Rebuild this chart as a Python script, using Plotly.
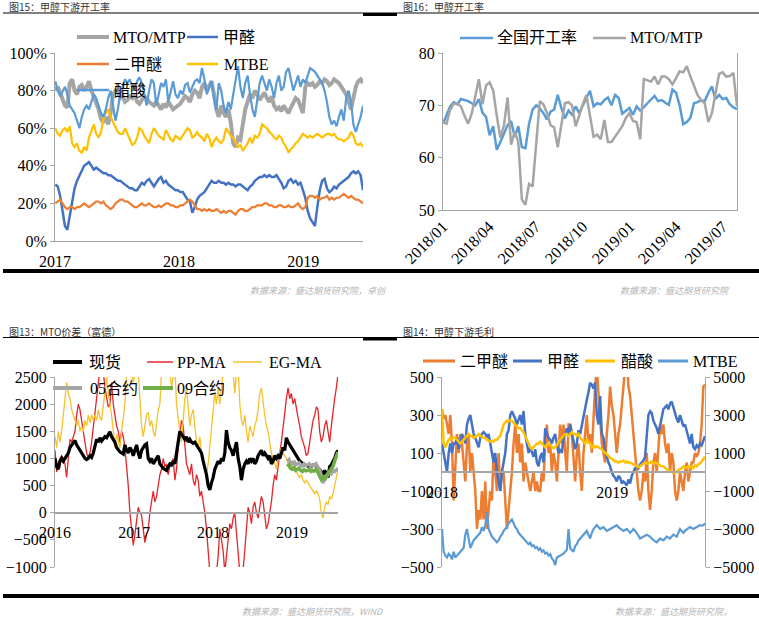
import pandas as pd
import plotly.graph_objects as go

# ---------------- Panel 1 (图15) weekly operating rates, % ----------------
p1_start, p1_end = "2017-01-02", "2019-06-26"
p1_mto = [80, 82, 79, 76, 72, 71, 84, 86, 80, 78, 82, 83, 80, 82, 85, 80, 77, 74, 70, 65, 63, 66, 62, 68, 78, 80,
          79, 76, 77, 74, 75, 77, 76, 78, 74, 73, 75, 77, 76, 74, 73, 72, 74, 72, 70, 73, 71, 74, 72, 70, 71, 72,
          73, 75, 77, 76, 74, 78, 80, 79, 76, 82, 84, 80, 83, 85, 78, 70, 66, 72, 68, 66, 70, 63, 52, 50, 55, 54,
          62, 70, 74, 78, 76, 80, 78, 75, 77, 79, 76, 74, 77, 72, 70, 71, 69, 72, 70, 68, 71, 74, 76, 75, 72, 68,
          82, 84, 83, 84, 82, 83, 85, 84, 86, 85, 83, 84, 86, 85, 84, 82, 80, 78, 74, 70, 76, 82, 85, 86, 84]
p1_hcho = [30, 29, 24, 15, 8, 6, 14, 22, 28, 32, 35, 38, 40, 41, 42, 40, 38, 39, 38, 37, 36, 36, 35, 35, 34, 33,
           32, 32, 31, 30, 29, 28, 28, 27, 27, 29, 31, 30, 32, 33, 31, 29, 31, 33, 34, 31, 32, 30, 29, 28, 27, 27,
           26, 26, 24, 22, 21, 15, 18, 22, 24, 25, 26, 28, 30, 32, 31, 31, 32, 31, 31, 30, 31, 30, 30, 29, 30, 30,
           29, 28, 27, 29, 30, 32, 33, 34, 34, 35, 34, 35, 34, 34, 35, 33, 31, 28, 29, 32, 33, 31, 32, 30, 31, 27,
           23, 16, 12, 10, 8, 18, 27, 32, 33, 28, 26, 27, 29, 28, 30, 31, 32, 33, 34, 36, 37, 36, 37, 35, 27]
p1_dme = [20, 21, 22, 20, 18, 17, 18, 18, 17, 18, 18, 19, 20, 19, 18, 19, 20, 21, 21, 20,
          21, 19, 18, 17, 18, 20, 21, 22, 22, 21, 21, 20, 19, 18, 18, 19, 20, 19, 19, 20,
          19, 18, 18, 19, 18, 19, 20, 20, 19, 19, 18, 18, 19, 19, 20, 21, 22, 21, 19, 17,
          17, 16, 17, 16, 17, 16, 16, 17, 16, 15, 16, 15, 16, 16, 15, 14, 16, 17, 17, 16,
          16, 17, 18, 18, 19, 19, 19, 20, 20, 19, 19, 18, 18, 19, 19, 18, 18, 19, 18, 18,
          19, 20, 18, 17, 18, 23, 24, 24, 23, 24, 22, 23, 23, 24, 22, 23, 22, 23, 23, 24,
          25, 24, 23, 24, 23, 22, 22, 21, 20]
p1_mtbe = [60, 57, 56, 59, 60, 58, 61, 52, 50, 52, 48, 47, 50, 48, 55, 58, 62, 57, 55, 58, 65, 68, 70, 66, 63, 60,
           58, 57, 57, 60, 57, 54, 51, 52, 55, 60, 59, 56, 54, 52, 57, 60, 58, 56, 55, 54, 59, 56, 54, 53, 56, 55,
           54, 56, 58, 60, 59, 55, 56, 58, 56, 55, 53, 57, 55, 50, 53, 55, 53, 52, 54, 60, 58, 56, 55, 52, 50, 51,
           48, 50, 52, 55, 52, 56, 55, 57, 62, 61, 60, 58, 57, 55, 54, 56, 55, 52, 50, 47, 49, 50, 52, 53, 55, 57,
           56, 55, 56, 55, 56, 57, 56, 55, 56, 57, 57, 56, 57, 55, 54, 54, 53, 54, 55, 58, 56, 52, 51, 52, 50]
p1_acet = [85, 80, 77, 80, 82, 78, 72, 70, 68, 64, 60, 66, 70, 72, 70, 74, 78, 76, 72, 68, 66, 70, 76, 80, 72, 64,
           70, 78, 82, 86, 84, 86, 82, 80, 85, 87, 84, 78, 72, 80, 86, 84, 72, 78, 84, 82, 86, 74, 80, 85, 78, 76,
           80, 78, 83, 84, 79, 82, 85, 86, 84, 92, 86, 78, 82, 85, 76, 70, 84, 80, 72, 68, 74, 70, 78, 86, 93, 82,
           76, 84, 88, 78, 70, 66, 75, 84, 88, 84, 80, 86, 82, 76, 84, 88, 80, 82, 90, 92, 86, 80, 84, 88, 82, 86,
           84, 88, 92, 91, 90, 88, 86, 84, 80, 74, 66, 62, 64, 61, 66, 70, 64, 76, 80, 74, 62, 58, 62, 66, 72]
p1_names = ["MTO/MTP", "甲醛", "二甲醚", "MTBE", "醋酸"]
p1_ticks = ["2017", "2018", "2019"]

# ---------------- Panel 2 (图16) methanol operating rate ----------------
p2_start, p2_end = "2018-01-01", "2019-07-29"
p2_nat = [66.5, 68.2, 69.8, 70.6, 70.2, 71.2, 71.0, 70.8, 70.4, 70.0, 71.2, 68.6, 67.8, 64.3, 66.0, 61.5, 63.0,
          64.5, 66.2, 67.0, 64.0, 66.0, 62.0, 61.8, 66.5, 69.2, 70.0, 69.4, 68.5, 67.3, 68.8, 69.2, 72.0, 69.5,
          67.5, 69.0, 68.2, 69.8, 68.5, 70.0, 71.5, 72.8, 69.8, 70.4, 70.2, 71.0, 71.5, 70.0, 72.0, 71.4, 68.4,
          69.0, 69.5, 68.2, 69.8, 69.0, 69.6, 70.4, 71.2, 71.8, 70.8, 71.0, 70.5, 70.1, 73.0, 72.4, 70.0, 66.4,
          66.8, 67.6, 70.4, 70.6, 71.0, 70.8, 72.4, 73.6, 71.2, 72.0, 71.2, 71.4, 70.2, 69.6, 69.3]
p2_mto = [66.8, 66.5, 69.2, 70.3, 70.4, 69.8, 68.0, 66.5, 68.4, 71.5, 75.0, 70.2, 73.8, 74.4, 72.8, 68.0, 63.8,
          66.2, 71.5, 62.5, 65.0, 63.0, 52.0, 51.0, 55.0, 54.5, 63.5, 70.8, 70.2, 68.5, 66.2, 65.8, 62.0, 66.0,
          70.4, 70.6, 70.0, 66.0, 68.2, 70.2, 72.0, 68.0, 64.0, 64.4, 63.5, 67.2, 63.0, 63.0, 64.0, 65.0, 66.0,
          67.6, 68.5, 67.0, 66.8, 63.5, 75.0, 74.8, 74.5, 75.5, 74.0, 75.5, 75.5, 75.0, 74.0, 75.2, 76.5, 76.3,
          77.5, 75.5, 73.8, 72.0, 71.0, 70.4, 66.8, 68.5, 72.2, 76.0, 76.3, 75.5, 75.6, 76.2, 69.8]
p2_names = ["全国开工率", "MTO/MTP"]
p2_tickvals = ["2018-01-01", "2018-04-01", "2018-07-01", "2018-10-01", "2019-01-01", "2019-04-01", "2019-07-01"]
p2_ticks = ["2018/01", "2018/04", "2018/07", "2018/10", "2019/01", "2019/04", "2019/07"]

# ---------------- Panel 3 (图13) MTO spreads ----------------
p3_start, p3_end = "2016-01-01", "2019-08-02"
p3_spot = [1000, 850, 800, 950, 1000, 950, 1000, 1050, 1100, 1200, 1250, 1300, 1330, 1250, 1200, 1150, 1100, 1050,
           1000, 980, 1000, 1050, 1020, 1100, 1250, 1350, 1300, 1380, 1320, 1350, 1400, 1380, 1450, 1490, 1400,
           1350, 1300, 1200, 1150, 1120, 1100, 1080, 1250, 1150, 1100, 1200, 1150, 1050, 1150, 1250, 1100, 1000,
           1150, 1200, 1250, 1270, 1000, 950, 1000, 900, 950, 1000, 1050, 900, 850, 820, 800, 780, 850, 900, 880,
           950, 900, 1100, 1300, 1500, 1450, 1400, 1350, 1400, 1300, 1350, 1300, 1280, 1300, 1250, 1200, 1150,
           1100, 950, 850, 700, 500, 420, 550, 650, 800, 900, 950, 900, 1000, 950, 1100, 1520, 1300, 1200, 1150,
           1050, 1200, 1300, 1000, 850, 600, 800, 900, 950, 900, 1000, 950, 1000, 900, 950, 1050, 1100, 1150,
           1050, 1100, 1050, 1000, 1050, 900, 950, 1050, 1000, 1050, 1000, 1100, 1200, 1150, 1380, 1300, 1250,
           1200, 1150, 1100, 1050, 1000, 950, 930, 900, 880, 870, 860, 870, 850, 880, 870, 860, 820, 800, 750,
           700, 780, 720, 650, 850, 880, 950, 1000, 1100, 1150]
p3_pp = [1150, 750, 900, 1000, 1050, 1000, 900, 650, 1000, 1350, 1300, 1400, 1500, 1800, 2000, 1900, 1700, 1500,
         1350, 1100, 1000, 1100, 1300, 1600, 1800, 2200, 2400, 2650, 2700, 2600, 2300, 2150, 1950, 2000, 2400,
         2000, 1800, 1600, 1500, 1300, 1500, 1400, 1200, 900, 500, 0, -300, -600, -400, -100, 100, 0, -50, -300,
         -550, -400, -300, 0, 200, 400, 200, 300, 500, 700, 800, 1000, 850, 900, 700, 850, 900, 1000, 600, 800,
         1200, 1500, 1700, 1600, 1200, 900, 800, 700, 900, 600, 500, 700, 600, 300, 400, 200, 0, -300, -700,
         -1100, -1200, -1100, -1200, -1100, -800, -300, -500, -700, -1100, -800, -400, -200, -300, -100, 0, -400,
         -700, -1100, -1200, -1050, -700, -300, 100, 0, -200, 100, 200, 0, -100, 100, 300, 200, -100, -300, -200,
         0, 200, 500, 700, 600, 900, 1100, 1300, 1600, 1800, 2100, 2300, 2100, 2200, 2000, 2100, 1900, 1750, 1600,
         1400, 1300, 1200, 1050, 1100, 1300, 1500, 1700, 1800, 1950, 1900, 1500, 1300, 1400, 1600, 1700, 1500,
         1300, 1600, 1900, 2100, 2300, 2550]
p3_eg = [1400, 1200, 1500, 1300, 1500, 1800, 2000, 2400, 2200, 2100, 1900, 1800, 1700, 1600, 1700, 1500, 1600, 1500,
         1700, 1600, 1800, 1650, 1800, 1700, 1800, 1700, 1900, 1750, 1700, 2000, 2300, 2500, 2200, 2000, 1800,
         1500, 1200, 1450, 1300, 1200, 1500, 1800, 2000, 2600, 2800, 2700, 2600, 2400, 2600, 2700, 2600, 2100,
         1600, 1400, 1600, 1800, 1850, 1600, 1700, 1500, 1400, 1700, 1900, 2000, 2600, 2700, 2600, 2800, 2700,
         2600, 2300, 2600, 2700, 2000, 1700, 1500, 1300, 1800, 2100, 2300, 2000, 1600, 1800, 1900, 1600, 1300,
         1200, 1400, 1100, 1000, 800, 700, 900, 1200, 1500, 1800, 2200, 2000, 2300, 2000, 2400, 2600, 2700, 2600,
         2800, 2700, 2600, 2600, 2200, 2600, 2700, 2000, 1700, 1600, 1800, 1500, 1300, 1600, 1500, 1400, 1600,
         1700, 1900, 2200, 2300, 2000, 1800, 1600, 1500, 1300, 1100, 1000, 900, 800, 1000, 1100, 1200, 1100, 1050,
         1000, 900, 800, 900, 850, 800, 750, 700, 650, 700, 600, 550, 600, 550, 500, 450, 400, 350, 400, 350, 250,
         0, -100, 100, 200, 150, 300, 250, 350, 500, 600, 800]
p3c_start = "2018-12-10"
p3_c05 = [950, 980, 920, 900, 950, 880, 900, 920, 880, 860, 900, 870, 880, 900, 860, 880, 870, 900, 850, 800, 700,
          550, 600, 650, 700, 750, 720, 780, 760, 800, 820]
p3_c09 = [850, 880, 820, 800, 830, 780, 800, 820, 780, 760, 790, 770, 780, 800, 760, 780, 770, 800, 750, 700, 620,
          650, 600, 680, 720, 750, 800, 850, 950, 1050, 1120]
p3_names = ["现货", "PP-MA", "EG-MA", "05合约", "09合约"]
p3_ticks = ["2016", "2017", "2018", "2019"]

# ---------------- Panel 4 (图14) downstream margins ----------------
p4_start, p4_end = "2018-01-01", "2019-07-19"
p4_dme = [330, 280, 300, 250, 200, 300, 150, -150, 0, 200, 100, 200, 150, 50, -50, 150, 200, 0, 100, 0, -100, -300,
          -200, -250, -100, -250, -50, -300, -200, -100, -150, 100, 0, -100, 100, -100, 0, 0, -150, -300, -200,
          -100, 0, 150, 250, 100, 200, 50, 150, -50, 50, 0, -50, -100, -50, 0, -100, -50, -100, -100, 0, -50, 150,
          250, 100, 150, 0, 100, 50, -50, 100, 250, 150, 250, 100, 0, 250, 250, 200, 50, -50, 100, 150, 0, -100,
          100, 200, 300, 150, 200, 100, 300, 450, 550, 400, 250, 150, 100, 50, 200, 300, 450, 350, 300, 200, 100,
          200, 250, 350, 500, 550, 600, 450, 400, 300, 200, 100, 0, -100, -150, -100, 0, -50, 100, -100, -200,
          -100, 50, 100, 0, 150, 250, 200, 250, 150, 100, 150, 0, 100, 50, -100, -150, -100, 0, -50, -100, 0, 50,
          -50, 0, 50, 50, 100, 80, 100, 150, 250, 450, 460]
p4_hcho = [150, 100, 50, 0, 100, 150, 100, 150, 150, 180, 120, 150, 200, 180, 150, 250, 280, 300, 250, 200, 180,
           150, 130, 180, 200, 210, 200, 180, 200, 150, 100, 50, 100, 0, -50, -100, 0, 50, 100, 200, 220, 300, 320,
           300, 280, 250, 280, 300, 250, 320, 200, 150, 100, 130, 100, 80, 120, 50, 30, 80, 100, 50, 230, 200, 180,
           170, 150, 180, 200, 150, 100, 120, 100, 180, 200, 230, 200, 250, 200, 150, 120, 150, 220, 200, 250, 300,
           330, 380, 420, 470, 460, 440, 470, 300, 250, 400, 200, 180, 100, 80, 50, 30, 0, -20, -30, -50, -20, -30,
           -60, -50, -60, -70, -40, -60, -20, 0, 20, 30, 20, 40, 50, 60, 80, 200, 300, 320, 310, 270, 250, 230, 200,
           250, 300, 330, 340, 350, 330, 360, 370, 340, 300, 280, 260, 300, 270, 240, 250, 220, 180, 150, 200, 130,
           120, 140, 130, 150, 140, 170, 190]
p4_acet = [3300, 1500, 1300, 1500, 1700, 1800, 1700, 1800, 1800, 1700, 1600, 1500, 1600, 1700, 1800, 1900, 2000,
           1900, 1900, 1800, 1850, 1900, 2000, 1900, 1850, 1800, 1800, 1700, 1650, 1600, 1650, 1600, 1700, 1700,
           1800, 1900, 2200, 2500, 2600, 2700, 2650, 2750, 2700, 2600, 2500, 2400, 2300, 2300, 2200, 2100, 1900,
           1700, 1500, 1300, 1200, 1300, 1400, 1500, 1500, 1600, 1500, 1400, 1300, 1400, 1500, 1400, 1300, 1250,
           1300, 1400, 1600, 1700, 1800, 1900, 2000, 2000, 1900, 2000, 2100, 2000, 2000, 1900, 2000, 1800, 1700,
           1600, 1500, 1700, 1600, 1500, 1300, 1400, 1300, 1350, 1300, 1250, 1200, 1100, 1000, 950, 800, 750, 700,
           600, 550, 550, 500, 550, 550, 600, 500, 550, 500, 500, 450, 400, 350, 300, 250, 300, 400, 450, 500, 450,
           450, 500, 550, 450, 500, 450, 400, 350, 300, 300, 200, 150, 100, 50, 0, -50, -30, 0, 100, 150, 200, 300,
           250, 200, 300, 250, 300, 200, 350, 300, 400, 450, 550, 700, 800]
p4_mtbe = [-300, -420, -440, -450, -430, -440, -460, -420, -450, -440, -430, -420, -410, -400, -330, -300, -350,
           -400, -380, -360, -350, -340, -330, -320, -290, -310, -280, -210, -300, -320, -340, -350, -360, -370,
           -360, -340, -330, -310, -300, -290, -270, -260, -250, -270, -290, -300, -320, -330, -340, -350, -360,
           -365, -380, -372, -390, -385, -400, -395, -410, -402, -420, -412, -430, -424, -440, -432, -455, -465,
           -490, -450, -445, -440, -435, -430, -420, -410, -300, -400, -410, -420, -390, -380, -360, -350, -340,
           -330, -320, -310, -330, -350, -320, -300, -290, -280, -290, -300, -295, -290, -300, -310, -305, -300,
           -295, -290, -285, -280, -290, -300, -305, -310, -305, -300, -310, -320, -310, -300, -310, -320, -335,
           -350, -345, -340, -335, -330, -335, -340, -350, -360, -365, -370, -360, -350, -355, -360, -350, -340,
           -345, -350, -340, -330, -335, -340, -320, -300, -310, -320, -310, -300, -295, -290, -295, -300, -295,
           -290, -285, -280, -282, -280, -270]
p4_names = ["二甲醚", "甲醛", "醋酸", "MTBE"]
p4_ticks = ["2018", "2019"]

# ---------------- helpers ----------------
W, H = 759, 625


def fx(x):
    return x / W


def fy(y):
    return 1 - y / H


def dates(start, end, n):
    return pd.date_range(start, end, periods=n)


SERIF = "Liberation Serif, 'Noto Sans CJK SC', serif"
CJK = "'Noto Sans CJK SC', sans-serif"
TF = dict(family=SERIF, size=16, color="#000000")
AX = "#a6a6a6"

GRAY, DBLUE, ORANGE, YELLOW, LBLUE, GREEN, RED = ("#a5a5a5", "#4472c4", "#ed7d31", "#ffc000",
                                                  "#5b9bd5", "#70ad47", "#e3262b")

fig = go.Figure()


def add(x, y, color, width, xa, ya):
    fig.add_trace(go.Scatter(x=x, y=y, mode="lines", line=dict(color=color, width=width),
                             xaxis=xa, yaxis=ya, hoverinfo="skip", showlegend=False))


# panel 1
for vals, col, w in [(p1_mto, GRAY, 4), (p1_hcho, DBLUE, 2.5), (p1_dme, ORANGE, 2.2),
                     (p1_mtbe, YELLOW, 2.2), (p1_acet, LBLUE, 2.2)]:
    add(dates(p1_start, p1_end, len(vals)), vals, col, w, "x", "y")
# panel 2
for vals, col in [(p2_nat, LBLUE), (p2_mto, GRAY)]:
    add(dates(p2_start, p2_end, len(vals)), vals, col, 2.5, "x2", "y2")
# panel 3
add(dates(p3_start, p3_end, len(p3_pp)), p3_pp, RED, 1.3, "x3", "y3")
add(dates(p3_start, p3_end, len(p3_eg)), p3_eg, "#f6c12b", 1.3, "x3", "y3")
add(dates(p3_start, p3_end, len(p3_spot)), p3_spot, "#000000", 3.2, "x3", "y3")
add(dates(p3c_start, p3_end, len(p3_c05)), p3_c05, GRAY, 3.5, "x3", "y3")
add(dates(p3c_start, p3_end, len(p3_c09)), p3_c09, GREEN, 3.5, "x3", "y3")
# panel 4
add(dates(p4_start, p4_end, len(p4_dme)), p4_dme, ORANGE, 2.5, "x4", "y4")
add(dates(p4_start, p4_end, len(p4_hcho)), p4_hcho, DBLUE, 2.5, "x4", "y4")
add(dates(p4_start, p4_end, len(p4_acet)), p4_acet, YELLOW, 2.5, "x4", "y5")
add(dates(p4_start, p4_end, len(p4_mtbe)), p4_mtbe, LBLUE, 2.2, "x4", "y4")

base_x = dict(type="date", showgrid=False, zeroline=False, showline=True, linecolor=AX, linewidth=1,
              ticks="", tickfont=TF, automargin=False)
base_y = dict(showgrid=False, zeroline=False, showline=True, linecolor=AX, linewidth=1,
              ticks="outside", ticklen=4, tickcolor=AX, tickfont=TF, automargin=False)

fig.update_layout(
    width=W, height=H, margin=dict(l=0, r=0, t=0, b=0, autoexpand=False),
    paper_bgcolor="white", plot_bgcolor="white", showlegend=False,
    xaxis=dict(base_x, domain=[fx(55), fx(363)], anchor="y", range=["2017-01-01", p1_end],
               tickvals=["2017-01-01", "2018-01-01", "2019-01-01"], ticktext=p1_ticks, ticklabelstandoff=6),
    yaxis=dict(base_y, domain=[fy(241), fy(53)], anchor="x", range=[0, 100], dtick=20, ticksuffix="%"),
    xaxis2=dict(base_x, domain=[fx(443), fx(737)], anchor="y2", range=[p2_start, p2_end],
                tickvals=p2_tickvals, ticktext=p2_ticks, tickangle=-45),
    yaxis2=dict(base_y, domain=[fy(210), fy(53)], anchor="x2", range=[50, 80], dtick=10, mirror=True),
    xaxis3=dict(base_x, domain=[fx(55), fx(338)], anchor="free", position=fy(513), range=[p3_start, p3_end],
                tickvals=["2016-01-01", "2017-01-01", "2018-01-01", "2019-01-01"], ticktext=p3_ticks,
                linewidth=1.5, ticklabelstandoff=5),
    yaxis3=dict(base_y, domain=[fy(567), fy(377)], anchor="x3", range=[-1000, 2500], dtick=500),
    xaxis4=dict(base_x, domain=[fx(442), fx(705)], anchor="free", position=fy(472), range=[p4_start, p4_end],
                tickvals=["2018-01-01", "2019-01-01"], ticktext=p4_ticks, linewidth=1.5, ticklabelstandoff=6),
    yaxis4=dict(base_y, domain=[fy(567), fy(377)], anchor="x4", range=[-500, 500],
                tickvals=[-500, -300, -100, 100, 300, 500]),
    yaxis5=dict(base_y, overlaying="y4", side="right", anchor="x4", range=[-5000, 5000],
                tickvals=[-5000, -3000, -1000, 1000, 3000, 5000]),
)

shapes = []
ann = []


def hline(x0, x1, y, color="#000000", width=1):
    shapes.append(dict(type="line", xref="paper", yref="paper", x0=fx(x0), x1=fx(x1), y0=fy(y), y1=fy(y),
                       line=dict(color=color, width=width)))


def text(x, y, s, font, xanchor="left"):
    ann.append(dict(xref="paper", yref="paper", x=fx(x), y=fy(y), text=s, showarrow=False,
                    xanchor=xanchor, yanchor="middle", font=font))


# separators
hline(3, 759, 13, width=1)
hline(363, 397, 14.5, width=3)
hline(3, 759, 337.5, width=1)
hline(363, 397, 339, width=3)
hline(3, 759, 271, width=4)
hline(3, 759, 596, width=4)

TITLE = dict(family=CJK, size=10, color="#333333")
text(7, 7, "图15：甲醇下游开工率", TITLE)
text(401, 7, "图16：甲醇开工率", TITLE)
text(7, 331, "图13：MTO价差（富德）", TITLE)
text(401, 331, "图14：甲醇下游毛利", TITLE)

SRC = dict(family=CJK, size=9, color="#b4b4b4", style="italic")
text(248, 290, "数据来源：盛达期货研究院，卓创", SRC)
text(618, 290, "数据来源：盛达期货研究院", SRC)
text(240, 611, "数据来源：盛达期货研究院，WIND", SRC)
text(613, 611, "数据来源：盛达期货研究院，", SRC)

LF = dict(family=SERIF, size=16, color="#000000")
# legends: (x0, x1, y, color, width, text_x, label)
legend_items = [
    (77, 109, 37, GRAY, 4, 111, p1_names[0]), (187, 218, 37, DBLUE, 2.5, 221, p1_names[1]),
    (77, 109, 64, ORANGE, 2.5, 112, p1_names[2]), (187, 218, 64, YELLOW, 2.5, 222, p1_names[3]),
    (77, 109, 90, LBLUE, 2.5, 112, p1_names[4]),
    (460, 493, 38, LBLUE, 2.5, 495, p2_names[0]), (593, 626, 38, GRAY, 2.5, 628, p2_names[1]),
    (53, 82, 362, "#000000", 4, 87, p3_names[0]), (147, 173, 362, RED, 1.5, 175, p3_names[1]),
    (233, 262, 362, "#f6c12b", 1.5, 267, p3_names[2]), (53, 82, 388, GRAY, 4, 88, p3_names[3]),
    (143, 173, 388, GREEN, 4, 175, p3_names[4]),
    (423, 455, 361, ORANGE, 3, 458, p4_names[0]), (513, 542, 361, DBLUE, 3, 545, p4_names[1]),
    (585, 615, 361, YELLOW, 3, 619, p4_names[2]), (658, 688, 361, LBLUE, 3, 691, p4_names[3]),
]
for x0, x1, y, col, w, tx, lab in legend_items:
    hline(x0, x1, y, color=col, width=w)
    text(tx, y, lab, LF)

fig.update_layout(shapes=shapes, annotations=ann)
fig.write_html("out.html")
